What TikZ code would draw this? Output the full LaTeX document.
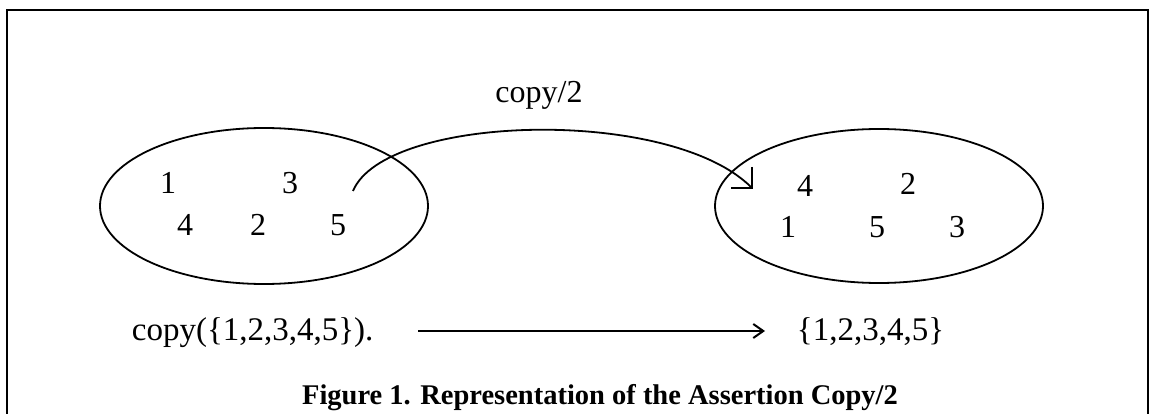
\documentclass[tikz,border=0pt]{standalone}
\usepackage{fontspec}
\setmainfont{Liberation Serif}
\usetikzlibrary{arrows.meta}
\begin{document}
\begin{tikzpicture}[x=1pt,y=-1pt,
  line width=1.8pt,
  digit/.style={inner sep=0pt,font=\fontsize{32}{36}\selectfont},
  lbl/.style={inner sep=0pt,font=\fontsize{33}{38}\selectfont},
  captext/.style={inner sep=0pt,font=\fontsize{28.5}{32}\selectfont\bfseries},
  setellipse/.style={draw,line width=1.8pt}]
\useasboundingbox (0,0) rectangle (1151,414);
\fill[white] (0,0) rectangle (1151,414);
% frame
\coordinate (fl) at (7,420);
\coordinate (ftl) at (7,10);
\coordinate (ftr) at (1148,10);
\coordinate (fr) at (1148,420);
\draw[line width=1.6pt] (fl) -- (ftl) -- (ftr) -- (fr);
% ellipses
\draw[setellipse] (264,206) ellipse [x radius=164, y radius=78];
\draw[setellipse] (879,206) ellipse [x radius=164, y radius=77];
% left set
\node[digit] (l1) at (168,183) {1};
\node[digit] (l3) at (290,183) {3};
\node[digit] (l4) at (185,225) {4};
\node[digit] (l2) at (258,225) {2};
\node[digit] (l5) at (338,225) {5};
% right set
\node[digit] (r4) at (805,186) {4};
\node[digit] (r2) at (908,184) {2};
\node[digit] (r1) at (788,227) {1};
\node[digit] (r5) at (877,227) {5};
\node[digit] (r3) at (957,227) {3};
% copy/2 arrow
\coordinate (cs) at (353,191);
\coordinate (ce) at (753,189);
\draw[-{Straight Barb[length=15pt,width=30pt,line width=1.8pt]}] (cs) .. controls (385,114) and (670,106) .. (ce);
\node[lbl,font=\fontsize{32}{36}\selectfont] (c2) at (539,95) {copy/2};
% bottom
\node[lbl,anchor=base west] (q) at (131,340) {copy(\{1,2,3,4,5\}).};
\node[lbl,anchor=base west] (res) at (796,340) {\{1,2,3,4,5\}};
\coordinate (as) at (418,331);
\coordinate (ae) at (765,331);
\draw[-{Straight Barb[length=10pt,width=14pt,line width=2pt]},line width=1.6pt] (as) -- (ae);
% caption
\node[captext,anchor=base] (capt) at (600,404) {Figure 1. Representation of the Assertion Copy/2};
\end{tikzpicture}
\end{document}
